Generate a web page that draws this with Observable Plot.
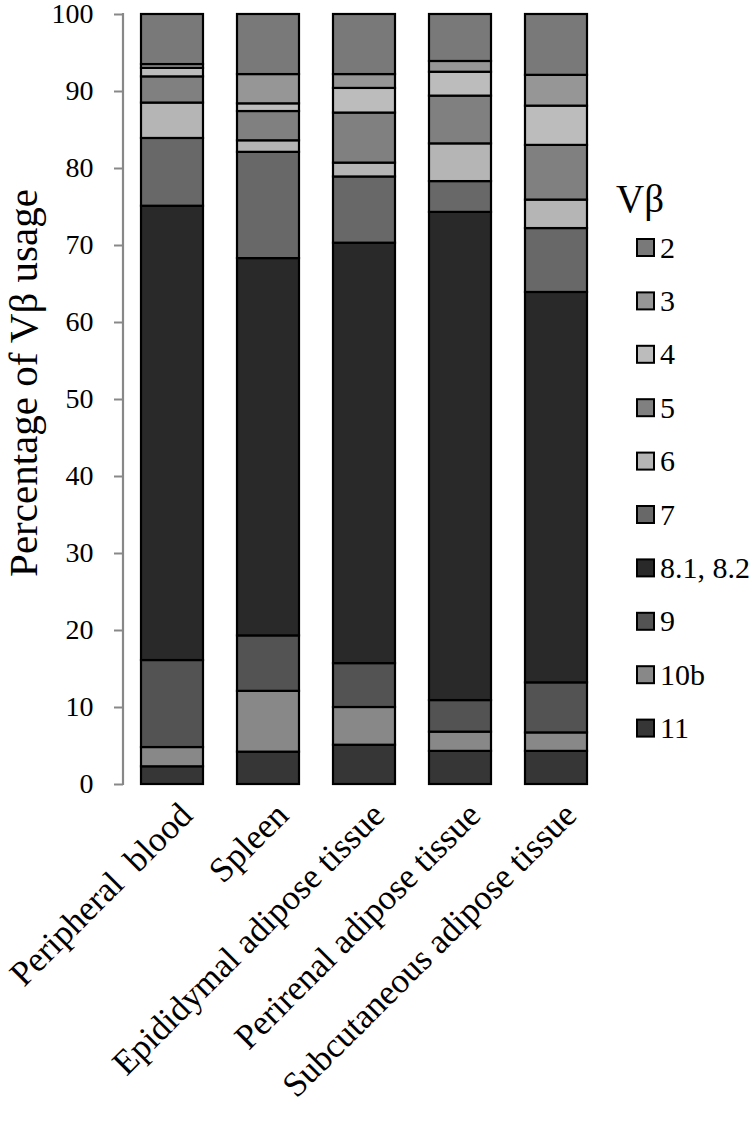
<!DOCTYPE html>
<html>
<head>
<meta charset="utf-8">
<script src="https://cdn.jsdelivr.net/npm/d3@7"></script>
<script src="https://cdn.jsdelivr.net/npm/@observablehq/plot@0.6"></script>
<style>
  html, body { margin: 0; padding: 0; background: #fff; }
  #chart svg { font-family: "Liberation Serif", "Times New Roman", serif; }
</style>
</head>
<body>
<div id="chart"></div>
<script>
const tissues = ["Peripheral  blood", "Spleen", "Epididymal adipose tissue", "Perirenal adipose tissue", "Subcutaneous adipose tissue"];
const vbeta = ["2", "3", "4", "5", "6", "7", "8.1, 8.2", "9", "10b", "11"];
const colors = ["#797979", "#969696", "#bcbcbc", "#808080", "#b5b5b5", "#686868", "#292929", "#535353", "#888888", "#363636"];

const v2   = [6.5, 7.8, 7.8, 6.1, 7.9];
const v3   = [0.5, 3.8, 1.8, 1.4, 4.0];
const v4   = [1.1, 1.0, 3.2, 3.1, 5.1];
const v5   = [3.4, 3.8, 6.5, 6.2, 7.1];
const v6   = [4.6, 1.5, 1.8, 4.9, 3.7];
const v7   = [8.8, 13.8, 8.6, 4.0, 8.3];
const v8   = [59.0, 49.0, 54.6, 63.4, 50.7];
const v9   = [11.3, 7.2, 5.7, 4.1, 6.5];
const v10b = [2.5, 7.9, 4.9, 2.5, 2.4];
const v11  = [2.3, 4.2, 5.1, 4.3, 4.3];

const yTicks = [0, 10, 20, 30, 40, 50, 60, 70, 80, 90, 100];
const yLabel = "Percentage of Vβ usage";
const legendTitle = "Vβ";

const seriesValues = [v2, v3, v4, v5, v6, v7, v8, v9, v10b, v11];
// stack from bottom: 11 first ... 2 last
const rows = [];
for (let s = vbeta.length - 1; s >= 0; s--) {
  tissues.forEach((t, i) => rows.push({tissue: t, vb: vbeta[s], value: seriesValues[s][i]}));
}

const W = 756, H = 1123;
const mL = 123, mR = 152, mT = 14, mB = H - 784;

const chart = Plot.plot({
  width: W,
  height: H,
  marginLeft: mL,
  marginRight: mR,
  marginTop: mT,
  marginBottom: mB,
  style: {fontFamily: "Liberation Serif, Times New Roman, serif", background: "#fff"},
  x: {domain: tissues, paddingInner: 0.355, paddingOuter: 0.18, label: null},
  y: {domain: [0, 100], label: null},
  color: {domain: vbeta, range: colors},
  marks: [
    Plot.barY(rows, {x: "tissue", y: "value", fill: "vb", stroke: "#000", strokeWidth: 2.2, order: null}),
    Plot.axisY({ticks: yTicks, tickSize: 9, tickPadding: 21, fontSize: 28, stroke: "#888", strokeWidth: 2, color: "#000", label: null}),
    Plot.axisX({tickSize: 0, tickRotate: -45, fontSize: 35, textAnchor: "end", dx: 14, dy: 13, label: null})
  ]
});

document.getElementById("chart").appendChild(chart);

const svg = d3.select(chart);
// y axis vertical line
svg.append("line")
  .attr("x1", mL).attr("x2", mL)
  .attr("y1", mT - 1).attr("y2", H - mB + 1)
  .attr("stroke", "#888").attr("stroke-width", 2.2);

// y label
svg.append("text")
  .attr("transform", `translate(37, 383) rotate(-90)`)
  .attr("text-anchor", "middle")
  .attr("font-size", 41)
  .attr("fill", "#000")
  .text(yLabel);

// legend
const lg = svg.append("g").attr("text-anchor", "start");
lg.append("text")
  .attr("x", 616).attr("y", 212)
  .attr("font-size", 39)
  .attr("fill", "#000")
  .text(legendTitle);
vbeta.forEach((name, i) => {
  const cy = 247.5 + i * 53.4;
  lg.append("rect")
    .attr("x", 637).attr("y", cy - 8.5)
    .attr("width", 17).attr("height", 17)
    .attr("fill", colors[i]).attr("stroke", "#000").attr("stroke-width", 2);
  lg.append("text")
    .attr("x", 660).attr("y", cy + 10)
    .attr("font-size", 30)
    .attr("fill", "#000")
    .text(name);
});
</script>
</body>
</html>
